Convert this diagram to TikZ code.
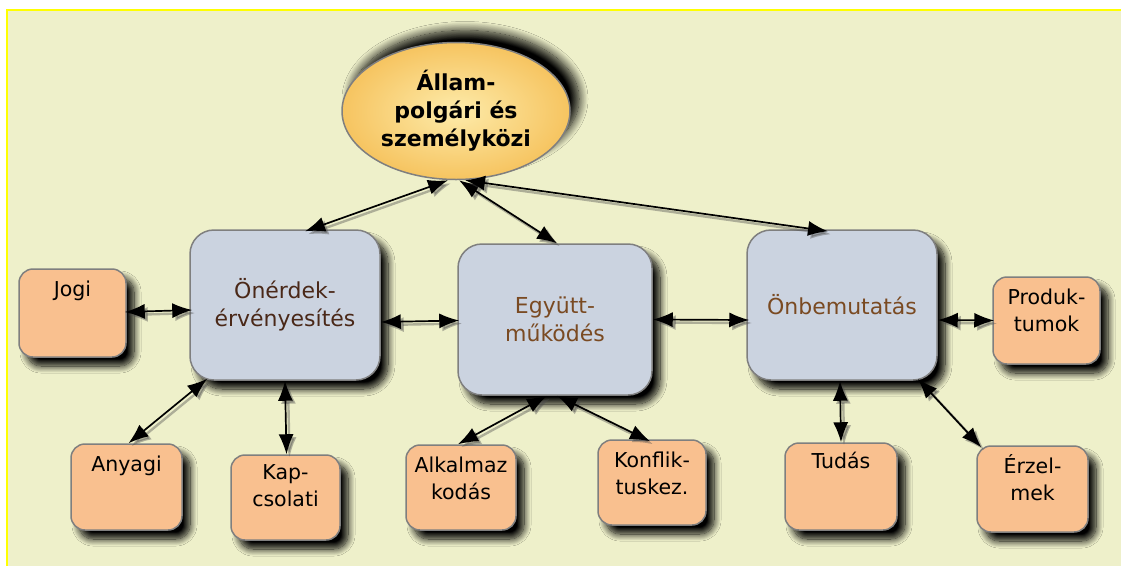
\documentclass[tikz,border=0pt]{standalone}
\usepackage{fontspec}
\setmainfont{DejaVu Sans}
\usetikzlibrary{arrows.meta,shadows.blur,shapes.geometric}
\definecolor{bgc}{HTML}{EEF0CA}
\definecolor{framec}{HTML}{FFFF00}
\definecolor{bluec}{HTML}{CBD3E0}
\definecolor{orangec}{HTML}{F9C08F}
\definecolor{edgec}{HTML}{7F7F7F}
\definecolor{darkbrown}{HTML}{4A2818}
\definecolor{midbrown}{HTML}{7A4A22}
\definecolor{ellin}{HTML}{FDEBAA}
\definecolor{ellout}{HTML}{F6C460}
\tikzset{
  shad/.style={blur shadow={shadow xshift=8pt, shadow yshift=-9pt, shadow blur steps=12, shadow blur radius=7pt, shadow opacity=100}},
  bluebox/.style={shad, draw=edgec, line width=1.5pt, fill=bluec, rounded corners=24pt, inner sep=0pt, align=center,
     font=\fontsize{22}{28}\selectfont},
  orangebox/.style={shad, draw=edgec, line width=1.5pt, fill=orangec, rounded corners=14pt, inner sep=0pt},
  otext/.style={anchor=north, inner sep=0pt, align=center, font=\fontsize{20.5}{27}\selectfont, yshift=-9pt},
  conntip/.tip={Latex[length=20pt,width=15pt]},
  conn/.style={line width=1.7pt, arrows={conntip-conntip},
     preaction={draw=black!70, opacity=0.4, line width=2.4pt, transform canvas={shift={(3pt,-3pt)}}}},
}
\begin{document}
\begin{tikzpicture}[x=1pt,y=-1pt]
\useasboundingbox (0,0) rectangle (1121,566);
\fill[white] (0,0) rectangle (1121,566);
\fill[bgc] (7,10) rectangle (1121,566);
\draw[framec, line width=2pt] (7,566) -- (7,10) -- (1121,10);

% top ellipse
\node[ellipse, draw=edgec, line width=1.5pt, inner sep=0pt, minimum width=228pt, minimum height=137pt,
  inner color=ellin, outer color=ellout,
  blur shadow={shadow xshift=9pt, shadow yshift=12pt, shadow blur steps=14, shadow blur radius=9pt, shadow opacity=100},
  align=center, font=\fontsize{22}{28}\bfseries\selectfont]
  (ell) at (456,111) {Állam-\\polgári és\\személyközi};

% blue boxes
\node[bluebox, minimum width=190pt, minimum height=150pt, text=darkbrown] (b1) at (285,305) {Önérdek-\\érvényesítés};
\node[bluebox, minimum width=194pt, minimum height=151pt, text=midbrown] (b2) at (555,319.5) {Együtt-\\működés};
\node[bluebox, minimum width=190pt, minimum height=150pt, text=midbrown] (b3) at (842,305) {Önbemutatás};

% orange boxes
\node[orangebox, minimum width=107pt, minimum height=88pt] (jogi) at (72.5,313) {};
\node[otext] at (jogi.north) {\vphantom{É}Jogi};
\node[orangebox, minimum width=111pt, minimum height=86pt] (any) at (126.5,487) {};
\node[otext] at (any.north) {\vphantom{É}Anyagi};
\node[orangebox, minimum width=109pt, minimum height=85pt] (kap) at (285.5,497.5) {};
\node[otext, yshift=3pt] at (kap.north) {\vphantom{É}Kap-\\csolati};
\node[orangebox, minimum width=110pt, minimum height=85pt] (alk) at (461,487.5) {};
\node[otext] at (alk.north) {\vphantom{É}Alkalmaz\\kodás};
\node[orangebox, minimum width=108pt, minimum height=85pt] (konf) at (652,482.5) {};
\node[otext] at (konf.north) {\vphantom{É}Konflik-\\tuskez.};
\node[orangebox, minimum width=112pt, minimum height=87pt] (tud) at (841,486.5) {};
\node[otext, yshift=2pt] at (tud.north) {\vphantom{É}Tudás};
\node[orangebox, minimum width=111pt, minimum height=86pt] (erz) at (1032.5,489) {};
\node[otext] at (erz.north) {\vphantom{É}Érzel-\\mek};
\node[orangebox, minimum width=107pt, minimum height=87pt] (prod) at (1046.5,320.5) {};
\node[otext] at (prod.north) {\vphantom{É}Produk-\\tumok};

% connectors
\draw[conn] ([xshift=-8pt]ell.south) -- ([xshift=20pt,yshift=-2pt]b1.north);
\draw[conn] ([xshift=3pt]ell.south) -- ([xshift=2pt]b2.north);
\draw[conn] ([xshift=9pt]ell.south) -- ([xshift=-14pt,yshift=-2pt]b3.north);
\draw[conn] ([xshift=-2pt,yshift=1pt]jogi.east) -- ([xshift=3pt,yshift=-5pt]b1.west);
\draw[conn] ([yshift=-17pt]b1.east) -- ([xshift=2pt,yshift=-1pt]b2.west);
\draw[conn] (b2.east) -- ([xshift=3pt,yshift=-15pt]b3.west);
\draw[conn] ([yshift=-15pt]b3.east) -- ([xshift=2pt]prod.west);
\draw[conn] ([xshift=18pt,yshift=2pt]b1.south west) -- ([xshift=2pt]any.north);
\draw[conn] (b1.south) -- ([xshift=1pt]kap.north);
\draw[conn] ([xshift=-8pt]b2.south) -- ([xshift=-3pt]alk.north);
\draw[conn] ([xshift=2pt]b2.south) -- ([xshift=-2pt,yshift=-2pt]konf.north);
\draw[conn] ([xshift=-2pt]b3.south) -- (tud.north);
\draw[conn] ([xshift=-20pt,yshift=2pt]b3.south east) -- ([xshift=5pt,yshift=-2pt]erz.north west);
\end{tikzpicture}
\end{document}
